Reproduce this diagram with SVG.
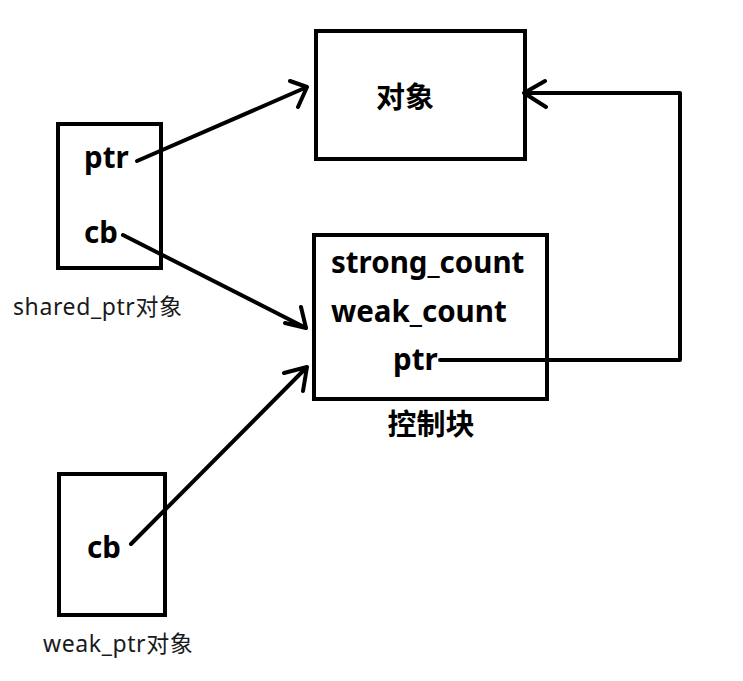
<svg xmlns="http://www.w3.org/2000/svg" width="743" height="681" viewBox="0 0 743 681">
<style>
.box{fill:none;stroke:#000;stroke-width:4}
.b{font-family:"Noto Sans","Noto Sans CJK SC",sans-serif;font-weight:bold;font-size:29.5px;fill:#000}
.c{font-family:"Noto Sans CJK SC",sans-serif;font-weight:bold;font-size:29px;fill:#000}
.lbl{font-family:"Noto Sans","Noto Sans CJK SC",sans-serif;font-size:23px;letter-spacing:0.6px;fill:#1a1a1a}
.ln{fill:none;stroke:#000;stroke-width:4;stroke-linecap:round;stroke-linejoin:round}
</style>
<rect width="743" height="681" fill="#fff"/>
<g id="shared_ptr">
<rect class="box" x="58" y="124" width="103" height="144"/>
<text class="b" x="84" y="168">ptr</text>
<text class="b" x="84" y="243">cb</text>
<text class="lbl" x="13" y="315">shared_ptr对象</text>
</g>
<g id="object">
<rect class="box" x="316" y="31" width="209" height="128"/>
<text class="c" x="405" y="108" text-anchor="middle">对象</text>
</g>
<g id="control_block">
<rect class="box" x="314" y="235" width="233" height="164"/>
<text class="b" x="331" y="273">strong_count</text>
<text class="b" x="331" y="322">weak_count</text>
<text class="b" x="393" y="370">ptr</text>
<text class="c" x="431" y="435" text-anchor="middle">控制块</text>
</g>
<g id="weak_ptr">
<rect class="box" x="59" y="474" width="106" height="141"/>
<text class="b" x="87" y="558">cb</text>
<text class="lbl" x="43" y="652">weak_ptr对象</text>
</g>
<g id="connectors">
<path class="ln" d="M137 161 L307 87 M290 81 L307 87 L298 107"/>
<path class="ln" d="M123 235 L306 328 M301 307 L306 328 L285 323"/>
<path class="ln" d="M131 544 L307 367 M284 373 L307 367 L303 391"/>
<path class="ln" d="M440 360 L680 360 L680 93 L524 93 M545 81 L524 93 L546 107"/>
</g>
</svg>
